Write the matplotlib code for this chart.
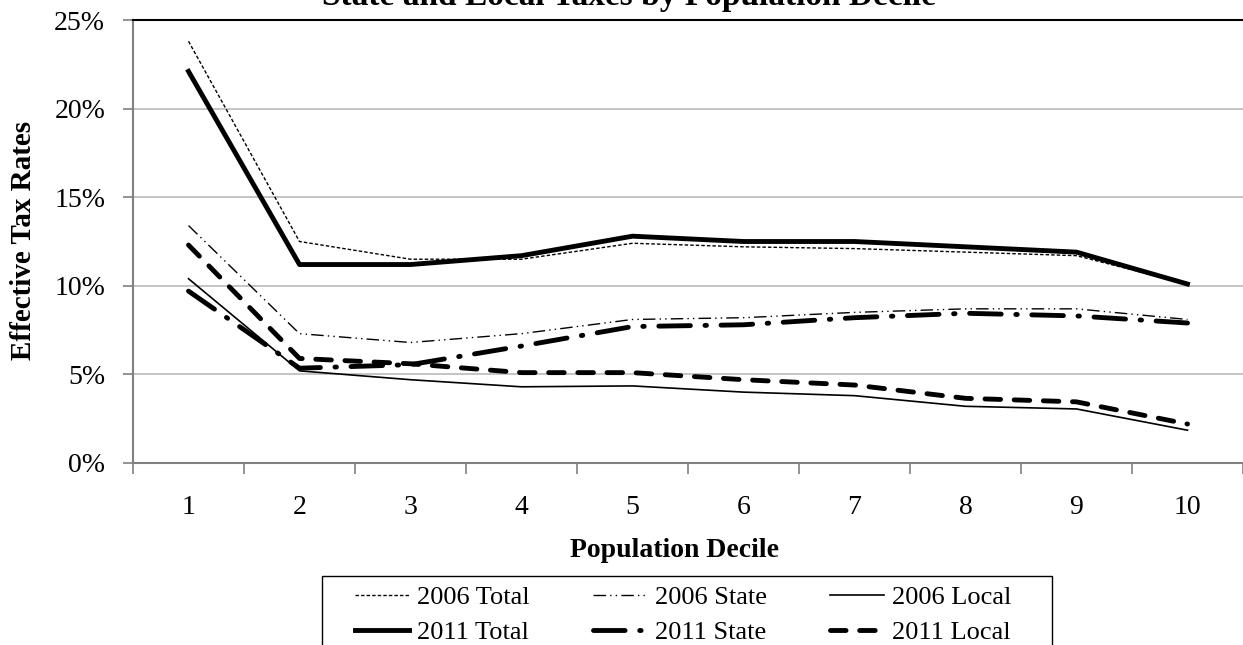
import matplotlib.pyplot as plt
from matplotlib.patches import Rectangle
from matplotlib.ticker import FuncFormatter

plt.rcParams['font.family'] = ['Liberation Serif', 'DejaVu Serif']

deciles = [1, 2, 3, 4, 5, 6, 7, 8, 9, 10]
total_2006 = [23.8, 12.5, 11.5, 11.5, 12.4, 12.2, 12.1, 11.9, 11.7, 10.1]
state_2006 = [13.4, 7.3, 6.8, 7.3, 8.1, 8.2, 8.5, 8.7, 8.7, 8.1]
local_2006 = [10.4, 5.2, 4.7, 4.3, 4.35, 4.0, 3.8, 3.2, 3.05, 1.85]
total_2011 = [22.1, 11.2, 11.2, 11.7, 12.8, 12.5, 12.5, 12.2, 11.9, 10.1]
state_2011 = [9.7, 5.35, 5.55, 6.6, 7.7, 7.8, 8.2, 8.45, 8.3, 7.9]
local_2011 = [12.3, 5.9, 5.6, 5.1, 5.1, 4.7, 4.4, 3.65, 3.45, 2.2]

W, H = 1243, 645
fig = plt.figure(figsize=(W / 100, H / 100), dpi=100)
ax = fig.add_axes([133 / W, 1 - 463 / H, 1 - 133 / W, 443 / H])

l1, = ax.plot(deciles, total_2006, color='black', lw=1.0, dashes=(2.5, 1.5), label='2006 Total')
l2, = ax.plot(deciles, state_2006, color='black', lw=1.0, dashes=(9, 3, 1, 3, 1, 3), label='2006 State')
l3, = ax.plot(deciles, local_2006, color='black', lw=1.2, label='2006 Local')
l4, = ax.plot(deciles, total_2011, color='black', lw=3.5, label='2011 Total')
l5, = ax.plot(deciles, state_2011, color='black', lw=3.5, dashes=(6.5, 3, 0.3, 3),
              dash_capstyle='round', label='2011 State')
l6, = ax.plot(deciles, local_2011, color='black', lw=3.5, dashes=(3.2, 2.8),
              dash_capstyle='round', label='2011 Local')

ax.set_xlim(0.5, 10.5)
ax.set_ylim(0, 25)
ax.set_yticks([0, 5, 10, 15, 20, 25])
ax.yaxis.set_major_formatter(FuncFormatter(lambda v, p: '%d%%' % v))
ax.set_xticks(deciles)
ax.set_xticks([x + 0.5 for x in range(0, 11)], minor=True)
ax.tick_params(axis='x', which='major', length=0, labelsize=20, pad=23)
ax.tick_params(axis='x', which='minor', length=8, color='#808080', width=1.2)
ax.tick_params(axis='y', length=7, color='#808080', width=1.2, labelsize=20, pad=13)

ax.grid(axis='y', color='#bfbfbf', lw=1.3)
ax.set_axisbelow(True)
for s in ['left', 'bottom']:
    ax.spines[s].set_color('#808080')
    ax.spines[s].set_linewidth(1.5)
ax.spines['right'].set_visible(False)
ax.spines['top'].set_color('black')
ax.spines['top'].set_linewidth(1.5)

fig.text(674 / W, 1 - 557 / H, 'Population Decile', ha='center', va='baseline',
         fontsize=20, fontweight='bold')
fig.text(24 / W, 1 - 240 / H, 'Effective Tax Rates', ha='center', va='center', rotation=90,
         fontsize=21, fontweight='bold')
fig.text(629 / W, 1 - 5 / H, 'State and Local Taxes by Population Decile', ha='center',
         va='baseline', fontsize=24, fontweight='bold')

# legend box (runs off the bottom edge like the original)
fig.patches.append(Rectangle((322 / W, -0.05), (1052 - 322) / W, 0.05 + 1 - 576 / H,
                             transform=fig.transFigure, fill=False, edgecolor='black', lw=1.0))
leg = fig.legend([l1, l4, l2, l5, l3, l6],
                 ['2006 Total', '2011 Total', '2006 State', '2011 State', '2006 Local', '2011 Local'],
                 ncol=3, loc='upper left', bbox_to_anchor=(355 / W, 1 - 586 / H), fontsize=19,
                 frameon=False, handlelength=2.05, handletextpad=0.3, columnspacing=2.4,
                 labelspacing=0.42, borderpad=0, borderaxespad=0)

fig.savefig('out.png', dpi=100)
